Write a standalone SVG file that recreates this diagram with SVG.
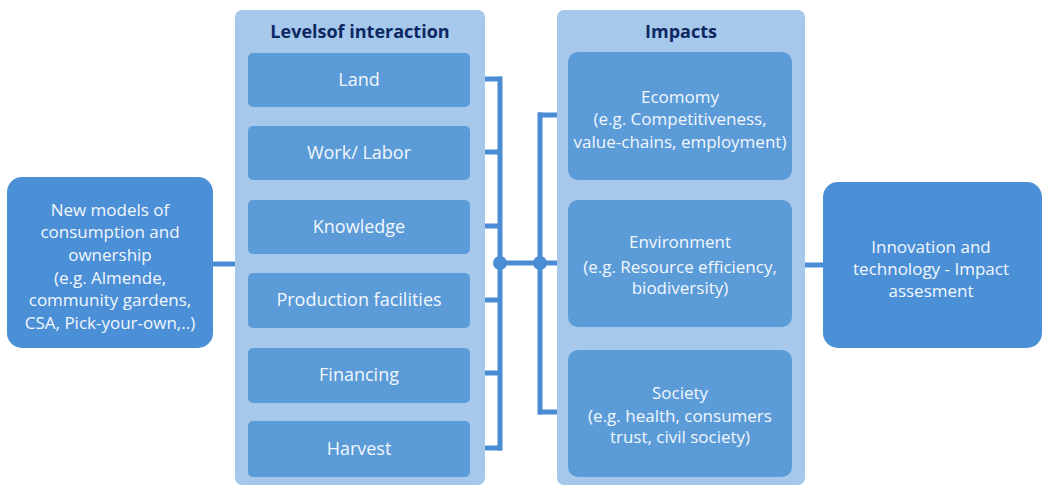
<svg xmlns="http://www.w3.org/2000/svg" width="1044" height="487" viewBox="0 0 1044 487">
<style>
.cont{fill:#a5c8eb;}
.box{fill:#5b9bd8;}
.node{fill:#4b8fd7;}
.t{font-family:"Open Sans","Liberation Sans",sans-serif;font-size:17px;fill:#f2f7fc;text-anchor:middle;}
.tl{font-size:18px;}
.ts{font-size:16px;}
.h{font-family:"Open Sans","Liberation Sans",sans-serif;font-size:18px;font-weight:bold;fill:#0c2762;text-anchor:middle;}
.c{stroke:#4a8dd5;stroke-width:5;fill:none;}
.dot{fill:#4a8dd5;}
</style>
<rect width="1044" height="487" fill="#ffffff"/>
<g id="connectors">
<line class="c" x1="212" y1="264" x2="236" y2="264"/>
<line class="c" x1="469" y1="79" x2="502" y2="79"/>
<line class="c" x1="469" y1="152" x2="502" y2="152"/>
<line class="c" x1="469" y1="226" x2="502" y2="226"/>
<line class="c" x1="469" y1="300" x2="502" y2="300"/>
<line class="c" x1="469" y1="373" x2="502" y2="373"/>
<line class="c" x1="469" y1="448" x2="502" y2="448"/>
<line class="c" x1="500" y1="76.5" x2="500" y2="450.5"/>
<line class="c" x1="500" y1="263" x2="569" y2="263"/>
<line class="c" x1="540" y1="112.5" x2="540" y2="414.5"/>
<line class="c" x1="538" y1="115" x2="569" y2="115"/>
<line class="c" x1="538" y1="412" x2="569" y2="412"/>
<line class="c" x1="804" y1="265" x2="824" y2="265"/>
<circle class="dot" cx="500" cy="263" r="7"/>
<circle class="dot" cx="540" cy="263" r="7"/>
</g>
<g id="levels">
<rect class="cont" x="235" y="10" width="250" height="475" rx="7"/>
<text class="h" x="360" y="38">Levelsof interaction</text>
</g>
<g id="land"><rect class="box" x="248" y="53" width="222" height="54" rx="5"/><text class="t tl" x="359" y="86">Land</text></g>
<g id="work"><rect class="box" x="248" y="126" width="222" height="54" rx="5"/><text class="t tl" x="359" y="159">Work/ Labor</text></g>
<g id="knowledge"><rect class="box" x="248" y="200" width="222" height="54" rx="5"/><text class="t tl" x="359" y="233">Knowledge</text></g>
<g id="production"><rect class="box" x="248" y="273" width="222" height="55" rx="5"/><text class="t tl" x="359" y="306">Production facilities</text></g>
<g id="financing"><rect class="box" x="248" y="348" width="222" height="55" rx="5"/><text class="t tl" x="359" y="381">Financing</text></g>
<g id="harvest"><rect class="box" x="248" y="421" width="222" height="56" rx="5"/><text class="t tl" x="359" y="455">Harvest</text></g>
<g id="impacts">
<rect class="cont" x="557" y="10" width="248" height="475" rx="7"/>
<text class="h" x="681" y="38">Impacts</text>
</g>
<g id="economy"><rect class="box" x="568" y="52" width="224" height="128" rx="10"/>
<text class="t" x="680" y="103">Ecomomy</text>
<text class="t" x="680" y="125">(e.g. Competitiveness,</text>
<text class="t" x="680" y="148">value-chains, employment)</text></g>
<g id="environment"><rect class="box" x="568" y="200" width="224" height="127" rx="10"/>
<text class="t" x="680" y="248">Environment</text>
<text class="t" x="680" y="273">(e.g. Resource efficiency,</text>
<text class="t" x="680" y="294">biodiversity)</text></g>
<g id="society"><rect class="box" x="568" y="350" width="224" height="127" rx="10"/>
<text class="t" x="680" y="399">Society</text>
<text class="t" x="680" y="422">(e.g. health, consumers</text>
<text class="t" x="680" y="443">trust, civil society)</text></g>
<g id="newmodels"><rect class="node" x="7" y="177" width="206" height="171" rx="15"/>
<text class="t" x="110" y="216">New models of</text>
<text class="t" x="110" y="238">consumption and</text>
<text class="t" x="110" y="261">ownership</text>
<text class="t" x="110" y="284">(e.g. Almende,</text>
<text class="t" x="110" y="306">community gardens,</text>
<text class="t" x="110" y="329">CSA, Pick-your-own,..)</text></g>
<g id="innovation"><rect class="node" x="823" y="182" width="219" height="166" rx="15"/>
<text class="t" x="931" y="253">Innovation and</text>
<text class="t" x="931" y="275">technology - Impact</text>
<text class="t" x="931" y="297">assesment</text></g>
</svg>
